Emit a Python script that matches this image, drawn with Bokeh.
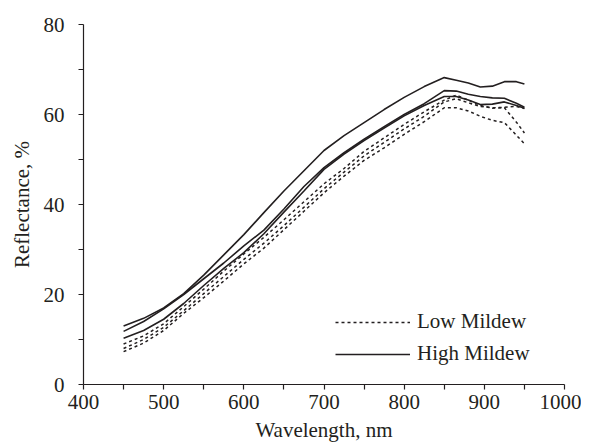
from bokeh.plotting import figure
from bokeh.models import Range1d, FixedTicker, Legend, LegendItem
from bokeh.embed import file_html
from bokeh.resources import INLINE

wavelength = [450, 475, 500, 525, 550, 575, 600, 625, 650, 675, 700, 725, 750,
              775, 800, 825, 850, 865, 880, 895, 910, 925, 940, 950]

high_1 = [13.0, 14.7, 17.0, 20.2, 24.3, 28.8, 33.3, 38.2, 43.0, 47.5, 52.0, 55.3, 58.2,
          61.1, 63.8, 66.2, 68.2, 67.6, 67.0, 66.1, 66.3, 67.3, 67.3, 66.8]
high_2 = [11.8, 14.0, 16.8, 20.0, 23.5, 27.0, 30.8, 34.3, 39.0, 44.0, 48.2, 51.5, 54.5,
          57.3, 60.0, 62.4, 65.3, 65.2, 64.5, 64.0, 63.7, 63.6, 62.5, 61.6]
high_3 = [10.3, 12.0, 14.5, 18.0, 22.0, 25.8, 29.3, 33.5, 38.3, 43.0, 47.8, 51.2, 54.2,
          57.0, 59.7, 62.0, 64.0, 64.0, 63.2, 62.2, 62.3, 62.8, 62.0, 61.4]

low_1 = [9.0, 10.8, 13.5, 17.3, 21.2, 25.2, 29.0, 32.7, 36.6, 40.6, 44.6, 48.0, 51.8,
         54.8, 57.8, 60.6, 63.2, 64.3, 63.2, 62.0, 61.4, 61.5, 58.3, 55.9]
low_2 = [8.0, 10.0, 12.7, 16.4, 20.2, 24.0, 27.8, 31.4, 35.3, 39.4, 43.5, 47.2, 50.8,
         53.8, 56.8, 59.6, 62.8, 63.5, 62.6, 61.8, 61.5, 61.6, 61.8, 61.3]
low_3 = [7.3, 9.2, 12.0, 15.8, 19.3, 23.0, 26.8, 30.3, 34.4, 38.5, 42.6, 46.3, 49.8,
         52.6, 55.6, 58.4, 61.5, 61.5, 60.8, 59.6, 58.7, 58.2, 55.4, 53.5]

x_ticks = [400, 500, 600, 700, 800, 900, 1000]
x_minor = [450, 550, 650, 750, 850, 950]
y_ticks = [0, 20, 40, 60, 80]
y_minor = [10, 30, 50, 70]

INK = "#231f20"
FONT = "Liberation Serif"

p = figure(width=581, height=444, output_backend="svg", toolbar_location=None,
           x_range=Range1d(400, 1000), y_range=Range1d(0, 80),
           min_border_left=83, min_border_right=17, min_border_top=24, min_border_bottom=60)
p.outline_line_color = None
p.grid.visible = False
p.background_fill_color = "white"

low_renderers = []
for s in (low_1, low_2, low_3):
    r = p.line(wavelength, s, line_color=INK, line_width=1.5, line_dash="3 3")
    low_renderers.append(r)
high_renderers = []
for s in (high_1, high_2, high_3):
    r = p.line(wavelength, s, line_color=INK, line_width=1.6)
    high_renderers.append(r)

for ax in (p.xaxis[0], p.yaxis[0]):
    ax.axis_line_color = INK
    ax.axis_line_width = 1.2
    ax.major_tick_line_color = INK
    ax.minor_tick_line_color = INK
    ax.major_tick_line_width = 1.2
    ax.minor_tick_line_width = 1.2
    ax.major_tick_in = 0
    ax.major_tick_out = 5
    ax.minor_tick_in = 0
    ax.minor_tick_out = 5
    ax.major_label_text_font = FONT
    ax.major_label_text_font_size = "21px"
    ax.major_label_text_color = INK
    ax.axis_label_text_font = FONT
    ax.axis_label_text_font_size = "21px"
    ax.axis_label_text_font_style = "normal"
    ax.axis_label_text_color = INK

p.xaxis[0].ticker = FixedTicker(ticks=x_ticks, minor_ticks=x_minor)
p.yaxis[0].ticker = FixedTicker(ticks=y_ticks, minor_ticks=y_minor)
p.xaxis[0].axis_label = "Wavelength, nm"
p.yaxis[0].axis_label = "Reflectance, %"
p.xaxis[0].major_label_standoff = 5
p.xaxis[0].axis_label_standoff = 6
p.yaxis[0].major_label_standoff = 14
p.yaxis[0].axis_label_standoff = 7

legend = Legend(items=[LegendItem(label="Low Mildew", renderers=[low_renderers[0]]),
                       LegendItem(label="High Mildew", renderers=[high_renderers[0]])],
                location=(252, 18), padding=0, margin=0, spacing=7,
                glyph_width=75, glyph_height=24, label_height=24, label_standoff=7,
                label_text_font=FONT, label_text_font_size="21px", label_text_color=INK,
                border_line_color=None, background_fill_alpha=0)
p.add_layout(legend, "center")

open("out.html", "w").write(file_html(p, INLINE))
